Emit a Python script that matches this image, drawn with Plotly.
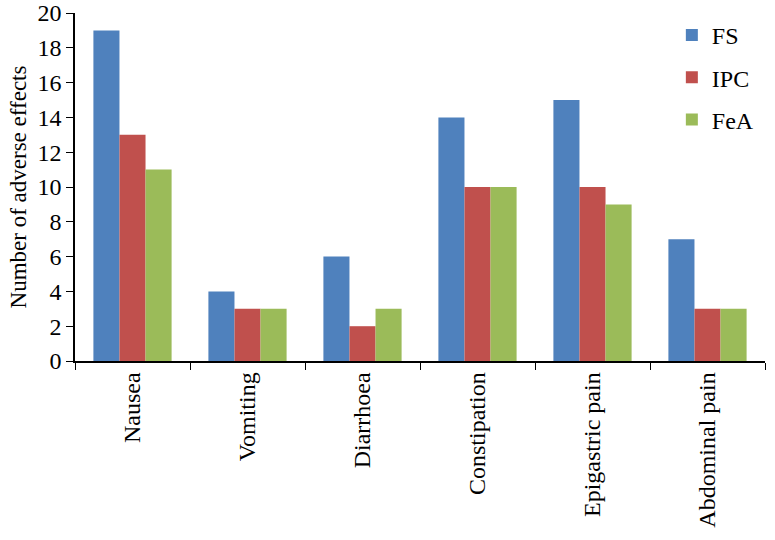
import plotly.graph_objects as go

categories = ["Nausea", "Vomiting", "Diarrhoea", "Constipation", "Epigastric pain", "Abdominal pain"]
fs = [19, 4, 6, 14, 15, 7]
ipc = [13, 3, 2, 10, 10, 3]
fea = [11, 3, 3, 10, 9, 3]

series = [("FS", fs, "#4f81bd"), ("IPC", ipc, "#c0504d"), ("FeA", fea, "#9bbb59")]

font = "Liberation Serif, Times New Roman, serif"

fig = go.Figure()
for name, vals, color in series:
    fig.add_trace(go.Bar(x=categories, y=vals, name=name, marker_color=color,
                         marker_line_width=0, legendgroup=name))

fig.update_layout(
    width=775, height=540,
    barmode="group", bargap=0.32, bargroupgap=0,
    plot_bgcolor="white", paper_bgcolor="white",
    margin=dict(l=75, r=10, t=13, b=179),
    font=dict(family=font, size=24, color="black"),
    legend=dict(x=0.865, y=1.0, xanchor="left", yanchor="top",
                traceorder="grouped", tracegroupgap=8,
                font=dict(size=24), itemwidth=30, bgcolor="rgba(0,0,0,0)"),
)
fig.update_xaxes(showline=True, linecolor="black", linewidth=1.5, automargin=False,
                 ticks="outside", tickson="boundaries", ticklen=7, tickcolor="black",
                 tickangle=-90, tickfont=dict(size=24))
fig.update_yaxes(range=[0, 20], dtick=2, showline=True, linecolor="black", linewidth=1.5,
                 ticks="outside", ticklen=7, tickcolor="black", showgrid=False,
                 zeroline=False, tickfont=dict(size=24), automargin=False,
                 ticklabeloverflow="allow",
                 title=dict(text="Number of adverse effects", font=dict(size=23), standoff=4))

# drop the page's default body margin so the figure sits at the window's corner
fig.write_html("out.html", config={"displayModeBar": False},
               post_script="document.body.style.margin='0';")
